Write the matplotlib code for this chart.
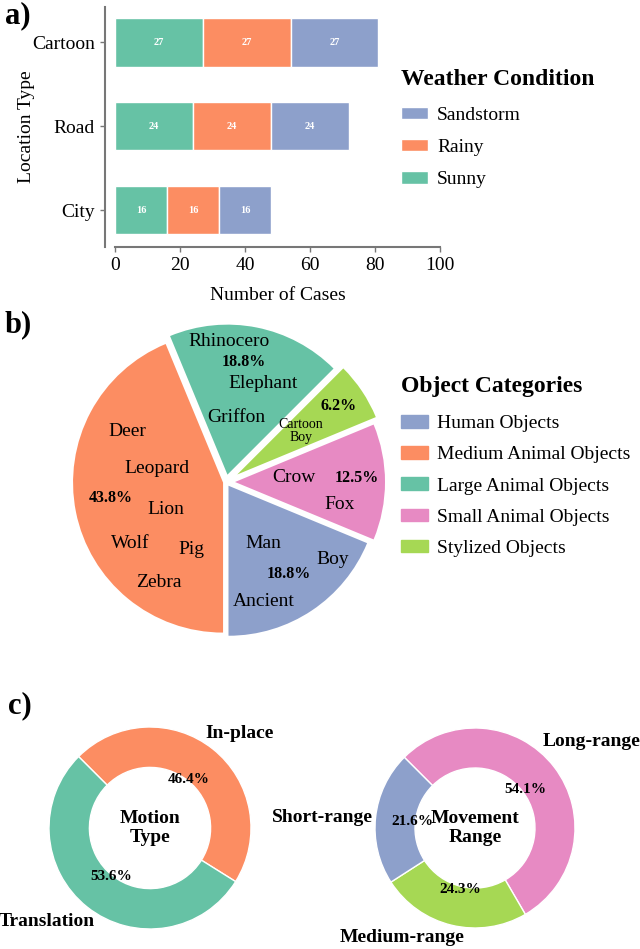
import numpy as np
import matplotlib
matplotlib.use('Agg')
import matplotlib.pyplot as plt
from matplotlib.patches import Patch

plt.rcParams['font.family'] = ['Liberation Serif', 'DejaVu Serif']

# ---- data ----
locations = ['City', 'Road', 'Cartoon']
sunny = [16, 24, 27]
rainy = [16, 24, 27]
sandstorm = [16, 24, 27]

obj_categories = ['Human Objects', 'Medium Animal Objects', 'Large Animal Objects',
                  'Small Animal Objects', 'Stylized Objects']
obj_counts = [3, 7, 3, 2, 1]
pie_order = [0, 3, 4, 2, 1]   # drawing order around the pie

motion_labels = ['In-place', 'Translation']
motion_values = [46.4, 53.6]
range_labels = ['Long-range', 'Medium-range', 'Short-range']
range_values = [54.1, 24.3, 21.6]

# colours (Set2)
c_teal, c_orange, c_blue, c_pink, c_green = '#66c2a5', '#fc8d62', '#8da0cb', '#e78ac3', '#a6d854'
obj_colors = [c_blue, c_orange, c_teal, c_pink, c_green]

W, H = 640, 949
fig = plt.figure(figsize=(W / 100, H / 100), dpi=100)


def px_box(x0, y0, x1, y1):
    return [x0 / W, 1 - y1 / H, (x1 - x0) / W, (y1 - y0) / H]


# ---------------- a) stacked bars ----------------
ax = fig.add_axes(px_box(115, 7, 440, 247))
y = np.arange(len(locations))
left = np.zeros(len(locations))
for vals, col, name in [(sunny, c_teal, 'Sunny'), (rainy, c_orange, 'Rainy'),
                        (sandstorm, c_blue, 'Sandstorm')]:
    bars = ax.barh(y, vals, left=left, height=0.58, color=col, edgecolor='white',
                   linewidth=1, label=name)
    ax.bar_label(bars, label_type='center', color='white', fontweight='bold', fontsize=7.5)
    left += np.array(vals)

ax.set_xlim(0, 100)
ax.set_ylim(-0.44, 2.42)
ax.set_yticks(y)
ax.set_yticklabels(locations)
ax.set_xticks(np.arange(0, 101, 20))
ax.tick_params(labelsize=14, length=3.5, width=1, color='#777777', pad=4)
for s in ['top', 'right']:
    ax.spines[s].set_visible(False)
ax.spines['left'].set_position(('outward', 7))
for s in ['left', 'bottom']:
    ax.spines[s].set_color('#777777')
    ax.spines[s].set_linewidth(1.5)
ax.set_xlabel('Number of Cases', fontsize=14, labelpad=9)
ax.set_ylabel('Location Type', fontsize=14, labelpad=-2)

h, l = ax.get_legend_handles_labels()
leg1 = fig.legend(h[::-1], l[::-1], loc='upper left', bbox_to_anchor=(401 / W, 1 - 69 / H),
                  frameon=False, fontsize=14, title='Weather Condition',
                  title_fontproperties={'weight': 'bold', 'size': 17}, alignment='left',
                  handlelength=1.4, handleheight=0.62, handletextpad=0.45, labelspacing=0.78,
                  borderpad=0, borderaxespad=0)
leg1._legend_box.sep += 1

fig.text(5 / W, 1 - 16 / H, 'a)', fontsize=22, fontweight='bold', va='center')

# ---------------- b) exploded pie ----------------
pcx, pcy, pr = 226, 482, 150
axp = fig.add_axes(px_box(pcx - 210, pcy - 210, pcx + 210, pcy + 210))
explode_by_cat = [0.03, 0.02, 0.05, 0.06, 0.09]
axp.pie([obj_counts[i] for i in pie_order], colors=[obj_colors[i] for i in pie_order],
        explode=[explode_by_cat[i] for i in pie_order], startangle=-90,
        wedgeprops={'linewidth': 0})
axp.set_xlim(-1.4, 1.4)
axp.set_ylim(-1.4, 1.4)
axp.axis('off')

total = sum(obj_counts)
pct = [f'{100 * c / total:.1f}%' for c in obj_counts]

# item names placed inside the wedges (radius units)
item_names = [
    ('Rhinocero', 0.02, 0.94), ('Elephant', 0.25, 0.66), ('Griffon', 0.07, 0.43),
    ('Deer', -0.66, 0.34), ('Leopard', -0.46, 0.09), ('Lion', -0.40, -0.18),
    ('Wolf', -0.64, -0.41), ('Pig', -0.23, -0.45), ('Zebra', -0.45, -0.67),
    ('Crow', 0.45, 0.03), ('Fox', 0.76, -0.15),
    ('Man', 0.25, -0.41), ('Boy', 0.71, -0.52), ('Ancient', 0.25, -0.80),
]
for name, tx, ty in item_names:
    axp.text(tx, ty, name, fontsize=14, ha='center', va='center')
axp.text(0.50, 0.34, 'Cartoon\nBoy', fontsize=10, ha='center', va='center', linespacing=1.1)

pct_pos = [(0.42, -0.61), (-0.77, -0.11), (0.12, 0.80), (0.87, 0.03), (0.75, 0.51)]
for p, (tx, ty) in zip(pct, pct_pos):
    axp.text(tx, ty, p, fontsize=11.5, fontweight='bold', ha='center', va='center')

obj_handles = [Patch(color=c) for c in obj_colors]
leg2 = fig.legend(obj_handles, obj_categories, loc='upper left', bbox_to_anchor=(401 / W, 1 - 376 / H),
                  frameon=False, fontsize=14, title='Object Categories',
                  title_fontproperties={'weight': 'bold', 'size': 17}, alignment='left',
                  handlelength=1.4, handleheight=0.62, handletextpad=0.45, labelspacing=0.72,
                  borderpad=0, borderaxespad=0)
leg2._legend_box.sep += 3

fig.text(5 / W, 1 - 325 / H, 'b)', fontsize=22, fontweight='bold', va='center')

# ---------------- c) donuts ----------------
def donut(cx, cy, r, values, labels, colors, center_text, pct_r, label_pos):
    axd = fig.add_axes(px_box(cx - 160, cy - 160, cx + 160, cy + 160))
    wedges, _ = axd.pie(values, colors=colors, startangle=135, counterclock=False,
                        wedgeprops={'width': 0.4, 'edgecolor': 'white', 'linewidth': 1})
    lim = 160 / r
    axd.set_xlim(-lim, lim)
    axd.set_ylim(-lim, lim)
    axd.axis('off')
    for w, v, lab, (lx, ly) in zip(wedges, values, labels, label_pos):
        mid = np.deg2rad((w.theta1 + w.theta2) / 2)
        axd.text(pct_r * np.cos(mid), pct_r * np.sin(mid), f'{v:.1f}%', fontsize=11,
                 fontweight='bold', ha='center', va='center')
        axd.text(lx, ly, lab, fontsize=14, fontweight='bold', ha='center', va='center')
    axd.text(0, 0, center_text, fontsize=14, fontweight='bold', ha='center', va='center',
             linespacing=1.2)


donut(150, 828, 101, motion_values, motion_labels, [c_orange, c_teal], 'Motion\nType', 0.61,
      [(0.89, 0.94), (-1.02, -0.93)])
donut(475, 828, 100, range_values, range_labels, [c_pink, c_green, c_blue], 'Movement\nRange', 0.63,
      [(1.17, 0.87), (-0.73, -1.09), (-1.53, 0.11)])

fig.text(8 / W, 1 - 706 / H, 'c)', fontsize=22, fontweight='bold', va='center')

fig.savefig('out.png', dpi=100)
